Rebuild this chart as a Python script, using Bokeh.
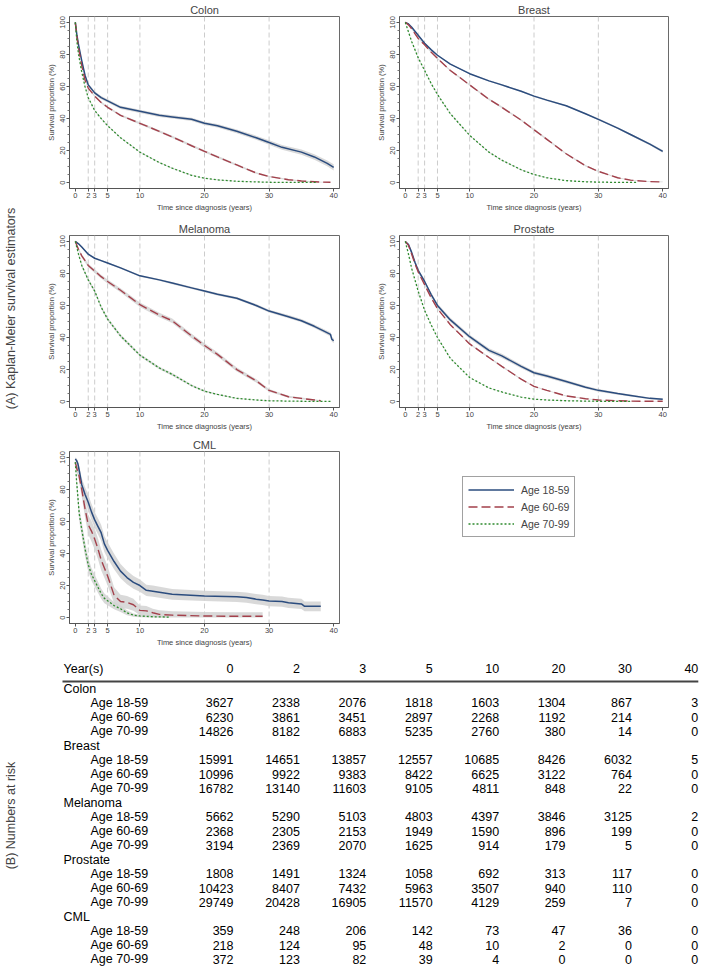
import math
from bokeh.plotting import figure
from bokeh.layouts import row, column
from bokeh.models import Range1d, FixedTicker, Span, Legend, LegendItem, Label
from bokeh.embed import file_html
from bokeh.resources import INLINE
from bokeh.core.properties import value

# ---------------- data ----------------
groups = ["Age 18-59", "Age 60-69", "Age 70-99"]
x_ticks = [0, 2, 3, 5, 10, 20, 30, 40]
ref_years = [2, 3, 5, 10, 20, 30]
y_ticks = [0, 20, 40, 60, 80, 100]
y_minor = [5, 10, 15, 25, 30, 35, 45, 50, 55, 65, 70, 75, 85, 90, 95]

# Colon
colon_t1 = [0, 0.25, 0.5, 1, 1.5, 2, 3, 4, 5, 7, 10, 13, 15, 18, 20, 22, 25, 28, 30, 32, 35, 37, 39, 40]
colon_s1 = [100, 92, 86, 76, 67, 61, 56, 53, 51, 47, 44.5, 42, 41, 39.5, 37, 35.5, 32, 28, 25, 22, 19, 16, 12, 9.5]
colon_c1 = [0, 0.8, 0.9, 1, 1, 1, 1, 1, 1, 1, 1, 1, 1, 1, 1, 1.1, 1.2, 1.3, 1.4, 1.5, 1.6, 1.7, 1.8, 2]
colon_t2 = [0, 0.25, 0.5, 1, 1.5, 2, 3, 4, 5, 7, 10, 13, 15, 18, 20, 22, 25, 28, 30, 33, 35, 38, 39.5]
colon_s2 = [100, 91, 84, 73, 64, 59, 54, 50, 47, 42, 37, 32, 28.5, 23, 19.5, 16, 11, 6, 3.8, 1.8, 1, 0.3, 0.2]
colon_c2 = [0, 0.6, 0.6, 0.6, 0.6, 0.6, 0.6, 0.6, 0.6, 0.6, 0.7, 0.7, 0.7, 0.7, 0.7, 0.7, 0.6, 0.5, 0.5, 0.4, 0.3, 0.2, 0.2]
colon_t3 = [0, 0.25, 0.5, 1, 1.5, 2, 3, 4, 5, 7, 10, 13, 15, 18, 20, 22, 25, 28, 30, 33, 35, 37.5]
colon_s3 = [100, 88, 80, 69, 60, 53, 45, 40, 35.5, 28, 19, 12.5, 9, 4.5, 2.7, 1.7, 0.8, 0.4, 0.2, 0.1, 0.1, 0.1]
colon_c3 = [0, 0.4, 0.4, 0.4, 0.4, 0.4, 0.4, 0.4, 0.4, 0.4, 0.4, 0.3, 0.3, 0.3, 0.2, 0.2, 0.2, 0.1, 0.1, 0.1, 0.1, 0.1]

# Breast
breast_t1 = [0, 0.5, 1, 2, 3, 4, 5, 7, 10, 13, 15, 18, 20, 22, 25, 28, 30, 33, 35, 38, 40]
breast_s1 = [100, 99, 97, 92, 87, 83, 79.5, 74, 68, 63.5, 61, 57, 54, 51.5, 48, 43, 39.5, 34, 30, 24, 19.5]
breast_c1 = [0, 0.2, 0.3, 0.4, 0.4, 0.4, 0.4, 0.4, 0.4, 0.4, 0.5, 0.5, 0.5, 0.5, 0.5, 0.5, 0.6, 0.6, 0.7, 0.7, 0.8]
breast_t2 = [0, 0.5, 1, 2, 3, 4, 5, 7, 10, 13, 15, 18, 20, 22, 25, 28, 30, 33, 35, 38, 40]
breast_s2 = [100, 98.5, 96, 90, 86, 81.5, 77.5, 70, 61, 52, 47, 39, 33, 27, 18, 10.5, 7, 3, 1.5, 0.6, 0.4]
breast_c2 = [0, 0.3, 0.3, 0.4, 0.4, 0.5, 0.5, 0.5, 0.5, 0.6, 0.6, 0.6, 0.6, 0.6, 0.5, 0.5, 0.4, 0.3, 0.2, 0.2, 0.2]
breast_t3 = [0, 0.5, 1, 2, 3, 4, 5, 7, 10, 13, 15, 18, 20, 22, 25, 28, 30, 33, 36]
breast_s3 = [100, 94, 88, 78, 70, 62, 55, 43, 29.5, 19, 14, 8, 5, 3, 1.2, 0.5, 0.3, 0.1, 0.1]
breast_c3 = [0, 0.3, 0.3, 0.4, 0.4, 0.4, 0.4, 0.4, 0.4, 0.3, 0.3, 0.3, 0.2, 0.2, 0.1, 0.1, 0.1, 0.1, 0.1]

# Melanoma
mel_t1 = [0, 0.5, 1, 2, 3, 4, 5, 7, 10, 13, 15, 18, 20, 22, 25, 28, 30, 33, 35, 37, 38.5, 39.5, 39.7, 40]
mel_s1 = [100, 98.5, 96.5, 92, 89.5, 88, 86.5, 83.5, 78.5, 76, 74, 71, 69, 67, 64.5, 60, 56.5, 53, 50.5, 47, 44, 42, 39, 38]
mel_c1 = [0, 0.3, 0.4, 0.5, 0.5, 0.5, 0.5, 0.6, 0.6, 0.6, 0.7, 0.7, 0.7, 0.8, 0.8, 0.9, 0.9, 1, 1, 1.1, 1.2, 1.3, 1.5, 1.6]
mel_t2 = [0, 0.5, 1, 2, 3, 4, 5, 7, 10, 13, 15, 18, 20, 22, 25, 28, 30, 33, 35, 37, 38]
mel_s2 = [100, 95, 91, 85, 81.5, 78, 75, 69.5, 60.5, 54, 50.5, 41, 35, 29.5, 20, 13, 7, 3, 2, 1, 0.5]
mel_c2 = [0, 0.8, 1, 1.1, 1.2, 1.2, 1.3, 1.3, 1.4, 1.4, 1.4, 1.4, 1.4, 1.3, 1.2, 1.1, 0.9, 0.6, 0.5, 0.4, 0.3]
mel_t3 = [0, 0.5, 1, 2, 3, 4, 5, 7, 10, 13, 15, 18, 20, 22, 25, 28, 30, 33, 35, 37, 39.5]
mel_s3 = [100, 92, 85, 76, 69, 59, 51.5, 41, 29, 21, 17, 10, 6.5, 4.5, 2, 1, 0.5, 0.3, 0.2, 0.1, 0.1]
mel_c3 = [0, 0.8, 1, 1, 1, 1, 1, 1, 0.9, 0.8, 0.8, 0.6, 0.5, 0.4, 0.3, 0.2, 0.2, 0.1, 0.1, 0.1, 0.1]

# Prostate
pro_t1 = [0, 0.5, 1, 1.5, 2, 3, 4, 5, 7, 10, 13, 15, 18, 20, 22, 25, 28, 30, 33, 35, 38, 40]
pro_s1 = [100, 98, 93, 87, 82, 75, 67, 60, 51, 40.5, 32, 28.5, 22, 18, 16, 12.5, 9, 7, 5, 3.8, 2, 1.5]
pro_c1 = [0, 0.6, 0.8, 1, 1, 1.1, 1.2, 1.2, 1.3, 1.3, 1.3, 1.3, 1.2, 1.1, 1.1, 1, 0.9, 0.8, 0.7, 0.6, 0.5, 0.5]
pro_t2 = [0, 0.5, 1, 1.5, 2, 3, 4, 5, 7, 10, 13, 15, 18, 20, 22, 25, 28, 30, 33, 35, 38, 40]
pro_s2 = [100, 97.5, 92, 86, 81, 73, 65, 58, 48, 36, 27.5, 22, 14, 9.5, 7, 3.5, 1.8, 1, 0.5, 0.3, 0.2, 0.2]
pro_c2 = [0, 0.3, 0.4, 0.4, 0.4, 0.5, 0.5, 0.5, 0.5, 0.5, 0.5, 0.5, 0.4, 0.4, 0.3, 0.3, 0.2, 0.2, 0.1, 0.1, 0.1, 0.1]
pro_t3 = [0, 0.5, 1, 1.5, 2, 3, 4, 5, 7, 10, 13, 15, 18, 20, 22, 25, 28, 30, 33, 35]
pro_s3 = [100, 92, 83, 76, 69, 57, 48, 40, 27, 15, 8.5, 6, 2.8, 1.5, 1, 0.5, 0.3, 0.2, 0.1, 0.1]
pro_c3 = [0, 0.2, 0.3, 0.3, 0.3, 0.3, 0.3, 0.3, 0.3, 0.2, 0.2, 0.2, 0.1, 0.1, 0.1, 0.1, 0.1, 0.1, 0.1, 0.1]

# CML
cml_t1 = [0, 0.2, 0.4, 0.6, 1, 1.5, 2, 2.5, 3, 3.5, 4, 4.5, 5, 6, 7, 8, 9, 10, 11, 12, 15, 20, 25, 26.5, 28, 29, 30, 32, 33, 35, 35.5, 38]
cml_s1 = [99, 98, 96, 92, 83, 77, 72, 66, 61, 57, 53, 46, 42, 35, 29, 25, 22, 20, 17, 16.5, 14.5, 13.5, 13, 12.5, 11.5, 11, 10.3, 10, 9.2, 8.5, 7, 7]
cml_c1 = [1, 1.5, 2, 3, 4, 4.5, 4.8, 5, 5, 5, 5, 5, 5, 4.8, 4.5, 4.2, 4, 3.8, 3.5, 3.5, 3.3, 3.2, 3.2, 3.2, 3.2, 3.2, 3.2, 3.2, 3.2, 3.2, 3, 3]
cml_t2 = [0, 0.3, 0.5, 1, 1.5, 2, 2.5, 3, 3.5, 4, 4.5, 5, 5.5, 6, 7, 8, 9, 10, 11, 12, 13, 15, 20, 25, 29]
cml_s2 = [97, 92, 90, 80, 68, 58, 54, 49, 43, 36, 31, 26, 20, 14, 10, 9.5, 8, 4.5, 4.2, 3, 2, 1.5, 1, 0.8, 0.8]
cml_c2 = [1, 2.5, 3, 4.5, 5.5, 6, 6.5, 6.5, 6.5, 6.5, 6.2, 6, 5.5, 5, 4.2, 4, 3.8, 3, 3, 2.5, 2.5, 2.5, 2.5, 2.5, 2.5]
cml_t3 = [0, 0.2, 0.4, 0.6, 1, 1.5, 2, 2.5, 3, 3.5, 4, 4.5, 5, 6, 7, 8, 9, 10, 12, 14.5]
cml_s3 = [97, 85, 75, 65, 55, 43, 33, 27, 23, 19, 15, 12, 10.5, 7.5, 5.5, 3, 1.5, 1, 0.5, 0.3]
cml_c3 = [1, 3, 4, 4.5, 4.5, 4.5, 4.3, 4, 3.8, 3.5, 3.2, 3, 2.8, 2.3, 2, 1.5, 1, 0.8, 0.6, 0.5]

# Numbers at risk
risk_years = ["0", "2", "3", "5", "10", "20", "30", "40"]
cancers = ["Colon", "Breast", "Melanoma", "Prostate", "CML"]
risk_colon = [[3627, 2338, 2076, 1818, 1603, 1304, 867, 3],
              [6230, 3861, 3451, 2897, 2268, 1192, 214, 0],
              [14826, 8182, 6883, 5235, 2760, 380, 14, 0]]
risk_breast = [[15991, 14651, 13857, 12557, 10685, 8426, 6032, 5],
               [10996, 9922, 9383, 8422, 6625, 3122, 764, 0],
               [16782, 13140, 11603, 9105, 4811, 848, 22, 0]]
risk_melanoma = [[5662, 5290, 5103, 4803, 4397, 3846, 3125, 2],
                 [2368, 2305, 2153, 1949, 1590, 896, 199, 0],
                 [3194, 2369, 2070, 1625, 914, 179, 5, 0]]
risk_prostate = [[1808, 1491, 1324, 1058, 692, 313, 117, 0],
                 [10423, 8407, 7432, 5963, 3507, 940, 110, 0],
                 [29749, 20428, 16905, 11570, 4129, 259, 7, 0]]
risk_cml = [[359, 248, 206, 142, 73, 47, 36, 0],
            [218, 124, 95, 48, 10, 2, 0, 0],
            [372, 123, 82, 39, 4, 0, 0, 0]]

# ---------------- styling ----------------
FONT = "Liberation Sans"
COLORS = ["#2b4c7e", "#a3404b", "#2e8b2e"]
DASHES = ["solid", "9 4", "2 2"]
WIDTHS = [1.5, 1.4, 1.3]
BAND = "#d2d2d2"
ROW_HS = [219, 216, 218]
ROW_BOTTOMS = [31, 28, 30]
LW, RW = 331, 349


def panel(name, series, width, left, right, height, bottom):
    p = figure(width=width, height=height, x_range=Range1d(-0.9, 40.9), y_range=Range1d(-3.7, 103.7),
               output_backend="svg", toolbar_location=None,
               min_border_left=left, min_border_right=right, min_border_top=15, min_border_bottom=bottom)
    p.title.text = name
    p.title.align = "center"
    p.title.text_font = FONT
    p.title.text_font_size = "11px"
    p.title.text_font_style = "normal"
    p.title.standoff = 2
    p.xgrid.visible = False
    p.ygrid.visible = False
    p.outline_line_color = "#6a6a6a"
    p.outline_line_width = 1
    for v in ref_years:
        p.add_layout(Span(location=v, dimension="height", line_color="#cccccc",
                          line_dash="5 3", line_width=1, level="underlay"))
    for (t, s, c) in series:
        lo = [max(0.0, a - b) for a, b in zip(s, c)]
        hi = [min(100.0, a + b) for a, b in zip(s, c)]
        p.varea(x=t, y1=lo, y2=hi, fill_color=BAND, fill_alpha=0.85)
    for i, (t, s, c) in enumerate(series):
        p.line(t, s, line_color=COLORS[i], line_width=WIDTHS[i], line_dash=DASHES[i])
    xa = p.xaxis[0]
    xa.ticker = FixedTicker(ticks=x_ticks, minor_ticks=[])
    xa.axis_label = "Time since diagnosis (years)"
    ya = p.yaxis[0]
    ya.ticker = FixedTicker(ticks=y_ticks, minor_ticks=y_minor)
    ya.axis_label = "Survival proportion (%)"
    ya.major_label_orientation = "parallel"
    for ax in (xa, ya):
        ax.axis_label_text_font = FONT
        ax.axis_label_text_font_size = "7.5px"
        ax.axis_label_text_font_style = "normal"
        ax.axis_label_standoff = 2
        ax.major_label_text_font = FONT
        ax.major_label_text_font_size = "7.5px"
        ax.major_label_standoff = 1
        ax.major_tick_out = 3
        ax.major_tick_in = 0
        ax.minor_tick_out = 2
        ax.minor_tick_in = 0
        ax.axis_line_color = "#555555"
        ax.major_tick_line_color = "#555555"
        ax.minor_tick_line_color = "#777777"
    return p


colon = panel("Colon", [(colon_t1, colon_s1, colon_c1), (colon_t2, colon_s2, colon_c2), (colon_t3, colon_s3, colon_c3)],
              LW, 49, 12, ROW_HS[0], ROW_BOTTOMS[0])
breast = panel("Breast", [(breast_t1, breast_s1, breast_c1), (breast_t2, breast_s2, breast_c2), (breast_t3, breast_s3, breast_c3)],
               RW, 48, 32, ROW_HS[0], ROW_BOTTOMS[0])
mel = panel("Melanoma", [(mel_t1, mel_s1, mel_c1), (mel_t2, mel_s2, mel_c2), (mel_t3, mel_s3, mel_c3)],
            LW, 49, 12, ROW_HS[1], ROW_BOTTOMS[1])
pro = panel("Prostate", [(pro_t1, pro_s1, pro_c1), (pro_t2, pro_s2, pro_c2), (pro_t3, pro_s3, pro_c3)],
            RW, 48, 32, ROW_HS[1], ROW_BOTTOMS[1])
cml = panel("CML", [(cml_t1, cml_s1, cml_c1), (cml_t2, cml_s2, cml_c2), (cml_t3, cml_s3, cml_c3)],
            LW, 49, 12, ROW_HS[2], ROW_BOTTOMS[2])

# legend figure
lg = figure(width=RW, height=ROW_HS[2], x_range=Range1d(0, 1), y_range=Range1d(0, 1),
            output_backend="svg", toolbar_location=None, min_border=0,
            x_axis_location=None, y_axis_location=None, outline_line_color=None)
lg.xgrid.visible = False
lg.ygrid.visible = False
items = []
nan = float("nan")
for i, g in enumerate(groups):
    r = lg.line([nan, nan], [nan, nan], line_color=COLORS[i], line_width=WIDTHS[i], line_dash=DASHES[i])
    items.append(LegendItem(label=g, renderers=[r]))
legend = Legend(items=items, location=(111, 86), glyph_width=46, glyph_height=15,
                label_height=15, label_standoff=7, spacing=2, padding=5, margin=0,
                label_text_font=FONT, label_text_font_size="10.5px",
                border_line_color="#444444", border_line_width=1, background_fill_alpha=1)
lg.add_layout(legend)

# (A) label strip
TOP_H = sum(ROW_HS)
la = figure(width=20, height=TOP_H, x_range=Range1d(0, 20), y_range=Range1d(TOP_H, 0),
            output_backend="svg", toolbar_location=None, min_border=0,
            x_axis_location=None, y_axis_location=None, outline_line_color=None)
la.xgrid.visible = False
la.ygrid.visible = False
la.add_layout(Label(x=10, y=308, text="(A) Kaplan-Meier survival estimators", angle=math.pi / 2,
                    text_align="center", text_baseline="middle", text_font=FONT,
                    text_font_size="12.5px"))

# table figure
TW, TH = 700, 314
tb = figure(width=TW, height=TH, x_range=Range1d(0, TW), y_range=Range1d(TH, 0),
            output_backend="svg", toolbar_location=None, min_border=0,
            x_axis_location=None, y_axis_location=None, outline_line_color=None)
tb.xgrid.visible = False
tb.ygrid.visible = False
tb.add_layout(Label(x=10, y=162, text="(B) Numbers at risk", angle=math.pi / 2,
                    text_align="center", text_baseline="middle", text_font=FONT,
                    text_font_size="12.5px"))

COL_X0, COL_DX = 233, 66.4
HEAD_Y, LINE_Y, FIRST_Y, ROW_DY = 15, 28, 35, 14.25
CAT_X, GRP_X = 63, 90
TFS = "12.5px"

head_x = [COL_X0 + COL_DX * i for i in range(len(risk_years))]
tb.text(x=[CAT_X], y=[HEAD_Y], text=["Year(s)"], text_font=value(FONT), text_font_size=value(TFS),
        text_align="left", text_baseline="middle")
tb.text(x=head_x, y=[HEAD_Y] * len(risk_years), text=risk_years, text_font=value(FONT),
        text_font_size=value(TFS), text_align="right", text_baseline="middle")
tb.segment(x0=[CAT_X - 1], y0=[LINE_Y], x1=[head_x[-1]], y1=[LINE_Y], line_color="#444444", line_width=1.8)

all_risk = [risk_colon, risk_breast, risk_melanoma, risk_prostate, risk_cml]
lab_x, lab_y, lab_t = [], [], []
num_x, num_y, num_t = [], [], []
for ci, (cname, tab) in enumerate(zip(cancers, all_risk)):
    base = FIRST_Y + ci * 4 * ROW_DY
    lab_x.append(CAT_X); lab_y.append(base); lab_t.append(cname)
    for gi, g in enumerate(groups):
        yy = base + (gi + 1) * ROW_DY
        lab_x.append(GRP_X); lab_y.append(yy); lab_t.append(g)
        for k, v in enumerate(tab[gi]):
            num_x.append(head_x[k]); num_y.append(yy); num_t.append(str(v))
tb.text(x=lab_x, y=lab_y, text=lab_t, text_font=value(FONT), text_font_size=value(TFS),
        text_align="left", text_baseline="middle")
tb.text(x=num_x, y=num_y, text=num_t, text_font=value(FONT), text_font_size=value(TFS),
        text_align="right", text_baseline="middle")

layout = column(row(la, column(row(colon, breast), row(mel, pro), row(cml, lg))), tb)

open("out.html", "w").write(file_html(layout, INLINE))
